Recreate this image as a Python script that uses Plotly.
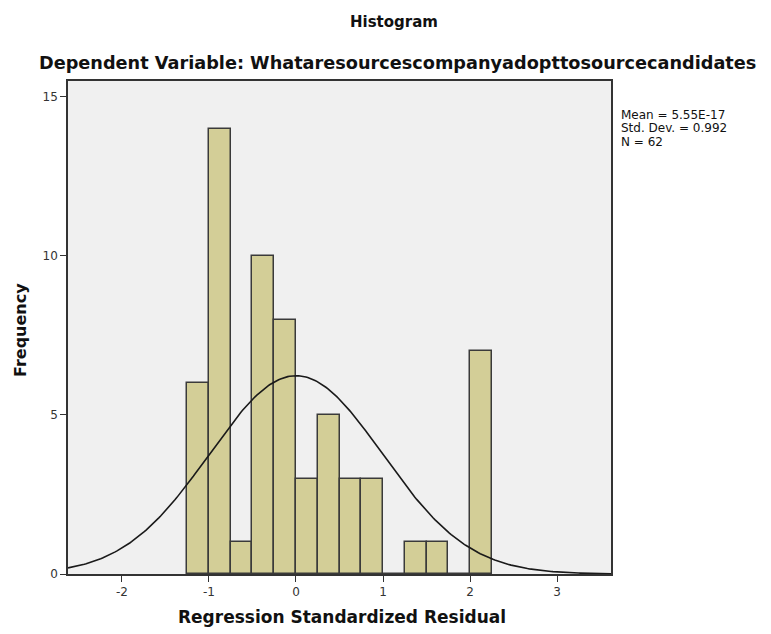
import numpy as np
import plotly.graph_objects as go

# Data
bin_left = [-1.25, -1.0, -0.75, -0.5, -0.25, 0.0, 0.25, 0.5, 0.75, 1.0, 1.25, 1.5, 1.75, 2.0]
counts = [6, 14, 1, 10, 8, 3, 5, 3, 3, 0, 1, 1, 0, 7]
bin_width = 0.25
mean_val = 5.55e-17
std_val = 0.992
n_val = 62
x_ticks = [-2, -1, 0, 1, 2, 3]
y_ticks = [0, 5, 10, 15]
stat_lines = ["Mean = 5.55E-17", f"Std. Dev. = {std_val}", f"N = {n_val}"]

centers = [b + bin_width / 2 for b in bin_left]

# Normal curve overlay scaled to frequency
xc = np.linspace(-2.62, 3.62, 300)
yc = n_val * bin_width / (std_val * np.sqrt(2 * np.pi)) * np.exp(-0.5 * ((xc - mean_val) / std_val) ** 2)

FONT = "DejaVu Sans, Arial, sans-serif"

# page has an 8px body margin; work in screen pixels and shift
OFF = 8
FW, FH = 771 - OFF, 634 - OFF
L, R, T, B = 68 - OFF, 611 - OFF, 81 - OFF, 574 - OFF
W, H = R - L, B - T


def px(xs):
    return (xs - OFF - L) / W


def py(ys):
    return (B - (ys - OFF)) / H


fig = go.Figure()
fig.add_trace(go.Bar(
    x=centers, y=counts, width=bin_width,
    marker=dict(color="#D3CE97", line=dict(color="#3a3a3a", width=1.5)),
    hoverinfo="x+y", showlegend=False,
))
fig.add_trace(go.Scatter(
    x=xc, y=yc, mode="lines",
    line=dict(color="#1a1a1a", width=1.6),
    hoverinfo="skip", showlegend=False,
))

axis_common = dict(
    showgrid=False, zeroline=False, automargin=False,
    showline=True, linecolor="#333", linewidth=1.5, mirror=True,
    ticks="outside", ticklen=6, tickcolor="#333",
    tickfont=dict(size=12, color="#333"),
)

annotations = [
    dict(text="<b>Histogram</b>", xref="paper", yref="paper", x=px(394), y=py(22),
         xanchor="center", yanchor="middle", showarrow=False, font=dict(size=15, color="#111")),
    dict(text="<b>Dependent Variable: Whataresourcescompanyadopttosourcecandidates</b>",
         xref="paper", yref="paper", x=px(397), y=py(63),
         xanchor="center", yanchor="middle", showarrow=False, font=dict(size=17.7, color="#111")),
    dict(text="<b>Regression Standardized Residual</b>", xref="paper", yref="paper",
         x=px(342), y=py(617), xanchor="center", yanchor="middle", showarrow=False,
         font=dict(size=17, color="#111")),
    dict(text="<b>Frequency</b>", xref="paper", yref="paper", textangle=-90,
         x=px(20), y=py(330), xanchor="center", yanchor="middle", showarrow=False,
         font=dict(size=16, color="#111")),
]
for i, s in enumerate(stat_lines):
    annotations.append(dict(
        text=s, xref="paper", yref="paper", x=px(619), y=py(115 + i * 13.5),
        xanchor="left", yanchor="middle", align="left", showarrow=False,
        font=dict(size=12, color="#111")))

fig.update_layout(
    width=FW, height=FH,
    margin=dict(l=L, r=FW - R, t=T, b=FH - B, autoexpand=False),
    paper_bgcolor="white",
    plot_bgcolor="#F0F0F0",
    font=dict(family=FONT, color="#222"),
    bargap=0,
    xaxis=dict(range=[-2.62, 3.62], tickvals=x_ticks, ticktext=[str(v) for v in x_ticks], **axis_common),
    yaxis=dict(range=[0, 15.5], tickvals=y_ticks, ticktext=[str(v) for v in y_ticks], **axis_common),
    annotations=annotations,
)

fig.write_html("out.html")
